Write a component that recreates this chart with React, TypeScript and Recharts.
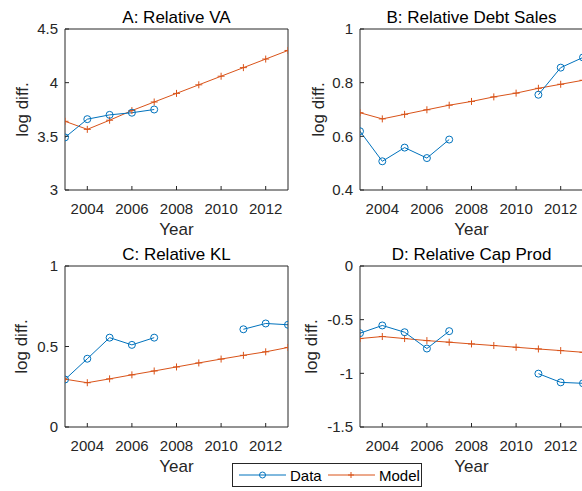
import { LineChart, Line, XAxis, YAxis, Label } from "recharts";

const years = [2003, 2004, 2005, 2006, 2007, 2008, 2009, 2010, 2011, 2012, 2013];
const yearTicks = [2004, 2006, 2008, 2010, 2012];

// A: Relative VA
const vaData = [3.49, 3.66, 3.7, 3.72, 3.75, null, null, null, null, null, null];
const vaModel = [3.64, 3.565, 3.65, 3.74, 3.82, 3.9, 3.98, 4.06, 4.14, 4.22, 4.3];
const vaTicks = [3, 3.5, 4, 4.5];

// B: Relative Debt Sales
const debtData = [0.619, 0.507, 0.558, 0.519, 0.588, null, null, null, 0.755, 0.856, 0.894];
const debtModel = [0.688, 0.665, 0.682, 0.699, 0.716, 0.73, 0.747, 0.761, 0.779, 0.794, 0.809];
const debtTicks = [0.4, 0.6, 0.8, 1];

// C: Relative KL
const klData = [0.295, 0.424, 0.555, 0.51, 0.555, null, null, null, 0.607, 0.643, 0.635];
const klModel = [0.297, 0.275, 0.299, 0.324, 0.348, 0.373, 0.398, 0.422, 0.445, 0.467, 0.494];
const klTicks = [0, 0.5, 1];

// D: Relative Cap Prod
const capData = [-0.626, -0.554, -0.617, -0.769, -0.607, null, null, null, -1.003, -1.084, -1.093];
const capModel = [-0.676, -0.657, -0.676, -0.695, -0.71, -0.726, -0.741, -0.757, -0.773, -0.788, -0.804];
const capTicks = [-1.5, -1, -0.5, 0];

const BLUE = "#0072BD";
const ORANGE = "#D95319";
const INK = "#262626";
const FONT = "'Liberation Sans', Arial, Helvetica, sans-serif";

const toRows = (d: (number | null)[], m: number[]) =>
  years.map((year, i) => ({ year, data: d[i], model: m[i] }));

const CircleDot = (props: any) => {
  const { cx, cy, index } = props;
  if (cx == null || cy == null) return <g key={`c${index}`} />;
  return <circle key={`c${index}`} cx={cx} cy={cy} r={3.5} fill="none" stroke={BLUE} strokeWidth={1} />;
};

const PlusDot = (props: any) => {
  const { cx, cy, index } = props;
  if (cx == null || cy == null) return <g key={`p${index}`} />;
  return (
    <path
      key={`p${index}`}
      d={`M${cx - 3.5},${cy}H${cx + 3.5}M${cx},${cy - 3.5}V${cy + 3.5}`}
      stroke={ORANGE}
      strokeWidth={1}
      fill="none"
    />
  );
};

interface PanelProps {
  title: string;
  rows: { year: number; data: number | null; model: number }[];
  domain: [number, number];
  ticks: number[];
  labelX: number;
  left: number;
  top: number;
}

function Panel({ title, rows, domain, ticks, labelX, left, top }: PanelProps) {
  const tickStyle = { fill: INK, fontSize: 15, fontFamily: FONT };
  return (
    <div style={{ position: "absolute", left, top }}>
      <LineChart width={300} height={245} data={rows} margin={{ top: 28, right: 11, bottom: 5, left: 20 }}>
        <XAxis
          dataKey="year"
          type="number"
          domain={[2003, 2013]}
          allowDataOverflow
          ticks={yearTicks}
          tickSize={-4}
          tickMargin={17}
          height={50}
          stroke={INK}
          tick={tickStyle}
        >
          <Label
            content={({ viewBox }: any) => (
              <text
                x={viewBox.x + viewBox.width / 2}
                y={viewBox.y + 45}
                textAnchor="middle"
                fill={INK}
                fontSize={17}
                fontFamily={FONT}
              >
                Year
              </text>
            )}
          />
        </XAxis>
        <XAxis
          xAxisId="top"
          orientation="top"
          dataKey="year"
          type="number"
          domain={[2003, 2013]}
          allowDataOverflow
          ticks={yearTicks}
          tickSize={-4}
          tick={false}
          height={1}
          stroke={INK}
        >
          <Label
            content={({ viewBox }: any) => (
              <text
                x={viewBox.x + viewBox.width / 2}
                y={viewBox.y + viewBox.height - 6}
                textAnchor="middle"
                fill="#000"
                fontSize={17}
                fontFamily={FONT}
              >
                {title}
              </text>
            )}
          />
        </XAxis>
        <YAxis
          type="number"
          domain={domain}
          allowDataOverflow
          ticks={ticks}
          tickSize={-4}
          tickMargin={11}
          width={45}
          stroke={INK}
          tick={tickStyle}
        >
          <Label
            content={({ viewBox }: any) => {
              const cy = viewBox.y + viewBox.height / 2;
              return (
                <text
                  x={labelX}
                  y={cy}
                  transform={`rotate(-90 ${labelX} ${cy})`}
                  textAnchor="middle"
                  dominantBaseline="central"
                  fill={INK}
                  fontSize={17}
                  fontFamily={FONT}
                >
                  log diff.
                </text>
              );
            }}
          />
        </YAxis>
        <YAxis
          yAxisId="right"
          orientation="right"
          type="number"
          domain={domain}
          allowDataOverflow
          ticks={ticks}
          tickSize={-4}
          tick={false}
          width={1}
          stroke={INK}
        />
        <Line
          dataKey="model"
          stroke={ORANGE}
          strokeWidth={1}
          dot={PlusDot}
          activeDot={false}
          isAnimationActive={false}
        />
        <Line
          dataKey="data"
          xAxisId="top"
          yAxisId="right"
          stroke={BLUE}
          strokeWidth={1}
          dot={CircleDot}
          activeDot={false}
          connectNulls={false}
          isAnimationActive={false}
        />
      </LineChart>
    </div>
  );
}

function LegendBox() {
  return (
    <div
      style={{
        position: "absolute",
        left: 232,
        top: 463,
        width: 188,
        height: 22,
        border: `1px solid ${INK}`,
        background: "#fff",
        fontFamily: FONT,
        fontSize: 15,
        color: "#000",
      }}
    >
      <svg width={188} height={22} style={{ position: "absolute", left: 0, top: 0 }}>
        <line x1={6} x2={53} y1={11} y2={11} stroke={BLUE} strokeWidth={1} />
        <circle cx={29.5} cy={11} r={3} fill="none" stroke={BLUE} />
        <text x={57} y={16.5} fontSize={15} fontFamily={FONT} fill="#000">
          Data
        </text>
        <line x1={95} x2={142} y1={11} y2={11} stroke={ORANGE} strokeWidth={1} />
        <path d="M115,11H121M118,8V14" stroke={ORANGE} />
        <text x={146} y={16.5} fontSize={15} fontFamily={FONT} fill="#000">
          Model
        </text>
      </svg>
    </div>
  );
}

export default function App() {
  return (
    <div
      style={{
        position: "absolute",
        left: 0,
        top: 0,
        width: 582,
        height: 491,
        overflow: "hidden",
        background: "#fff",
      }}
    >
      <Panel title="A: Relative VA" rows={toRows(vaData, vaModel)} domain={[3, 4.5]} ticks={vaTicks} labelX={22} left={0} top={0} />
      <Panel title="B: Relative Debt Sales" rows={toRows(debtData, debtModel)} domain={[0.4, 1]} ticks={debtTicks} labelX={23} left={295} top={0} />
      <Panel title="C: Relative KL" rows={toRows(klData, klModel)} domain={[0, 1]} ticks={klTicks} labelX={21} left={0} top={237} />
      <Panel title="D: Relative Cap Prod" rows={toRows(capData, capModel)} domain={[-1.5, 0]} ticks={capTicks} labelX={16} left={295} top={237} />
      <LegendBox />
    </div>
  );
}
